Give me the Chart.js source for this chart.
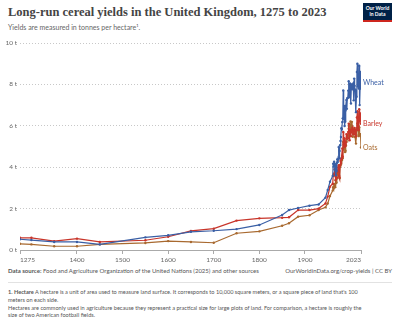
<!DOCTYPE html>
<html>
<head>
<meta charset="utf-8">
<script src="https://cdn.jsdelivr.net/npm/chart.js@4"></script>
<style>
  body { margin: 0; width: 400px; height: 326px; background: #fff; font-family: Lato, sans-serif; position: relative; overflow: hidden; }
  #title { position: absolute; left: 8px; top: 5px; font-family: "Liberation Serif", serif; font-weight: bold; font-size: 12.5px; color: #444; white-space: nowrap; }
  #subtitle { position: absolute; left: 8px; top: 23px; font-size: 7px; color: #666; white-space: nowrap; }
  #logo { position: absolute; left: 363px; top: 3px; width: 29px; height: 19px; background: #002147; border-bottom: 2px solid #ce261e; color: #fff; font-size: 5px; line-height: 5.5px; text-align: center; font-weight: bold; padding-top: 3px; box-sizing: border-box; }
  #chartBox { position: absolute; left: 0; top: 36px; width: 400px; height: 230px; }
  #source { position: absolute; left: 8px; top: 267px; font-size: 6px; color: #555; white-space: nowrap; }
  #url { position: absolute; right: 8px; top: 267px; font-size: 6px; color: #555; white-space: nowrap; }
  #sep { position: absolute; left: 8px; width: 384px; top: 282px; height: 1px; background: #e2e2e2; }
  #note { position: absolute; left: 8px; top: 288px; font-size: 5.6px; line-height: 7.8px; color: #555; white-space: nowrap; }
</style>
</head>
<body>
<div id="title">Long-run cereal yields in the United Kingdom, 1275 to 2023</div>
<div id="subtitle">Yields are measured in tonnes per hectare¹.</div>
<div id="logo">Our World<br>in Data</div>
<div id="chartBox"><canvas id="yieldChart"></canvas></div>
<div id="source"><b>Data source:</b> Food and Agriculture Organization of the United Nations (2025) and other sources</div>
<div id="url">OurWorldinData.org/crop-yields | CC BY</div>
<div id="sep"></div>
<div id="note"><b>1. Hectare</b> A hectare is a unit of area used to measure land surface. It corresponds to 10,000 square meters, or a square piece of land that's 100<br>meters on each side.<br>Hectares are commonly used in agriculture because they represent a practical size for large plots of land. For comparison, a hectare is roughly the<br>size of two American football fields.</div>

<script>
// years: sparse historical estimates, then annual from 1961
const years = [1275, 1300, 1350, 1400, 1450, 1550, 1600, 1650, 1700, 1750, 1800, 1850, 1865, 1885, 1910, 1930, 1945, 1950, 1955,
  1961, 1962, 1963, 1964, 1965, 1966, 1967, 1968, 1969, 1970,
  1971, 1972, 1973, 1974, 1975, 1976, 1977, 1978, 1979, 1980,
  1981, 1982, 1983, 1984, 1985, 1986, 1987, 1988, 1989, 1990,
  1991, 1992, 1993, 1994, 1995, 1996, 1997, 1998, 1999, 2000,
  2001, 2002, 2003, 2004, 2005, 2006, 2007, 2008, 2009, 2010,
  2011, 2012, 2013, 2014, 2015, 2016, 2017, 2018, 2019, 2020,
  2021, 2022, 2023];

const wheat = [0.52, 0.48, 0.39, 0.39, 0.27, 0.61, 0.71, 0.88, 0.93, 1.01, 1.21, 1.69, 1.93, 2.03, 2.14, 2.20, 2.53, 2.90, 3.30,
  3.58, 4.17, 4.03, 4.26, 4.05, 3.86, 4.14, 3.61, 3.81, 4.20,
  4.38, 4.25, 4.37, 4.97, 4.43, 4.78, 5.06, 5.27, 5.46, 5.88,
  5.84, 6.18, 6.36, 7.71, 6.33, 6.96, 5.99, 6.20, 6.74, 6.96,
  7.25, 6.82, 7.33, 7.35, 7.70, 8.15, 7.38, 7.56, 8.05, 8.01,
  7.08, 7.99, 7.78, 7.76, 7.96, 8.04, 7.23, 8.28, 7.93, 7.70,
  7.74, 6.66, 7.40, 8.60, 9.00, 7.90, 8.30, 7.80, 8.90, 7.00,
  7.80, 8.60, 8.10];

const barley = [0.59, 0.59, 0.43, 0.55, 0.39, 0.47, 0.64, 0.92, 1.03, 1.42, 1.53, 1.56, 1.58, 1.93, 1.93, 2.00, 2.25, 2.58, 3.06,
  3.20, 3.60, 3.60, 3.70, 3.90, 3.60, 3.80, 3.40, 3.50, 3.50,
  3.80, 3.80, 4.00, 4.10, 3.60, 3.50, 4.10, 4.30, 4.20, 4.40,
  4.40, 4.90, 4.50, 5.70, 5.10, 5.40, 5.00, 5.00, 5.10, 5.20,
  5.60, 5.40, 5.40, 5.40, 5.70, 6.10, 5.80, 5.30, 5.80, 5.80,
  5.50, 5.70, 5.80, 5.90, 5.70, 5.60, 5.60, 5.80, 5.90, 5.60,
  5.80, 5.50, 5.80, 6.40, 6.70, 5.90, 6.10, 5.80, 6.80, 6.20,
  6.40, 6.60, 6.10];

const oats = [0.30, 0.27, 0.18, 0.18, 0.27, 0.34, 0.43, 0.39, 0.35, 0.81, 0.90, 1.17, 1.29, 1.61, 1.68, 1.93, 2.06, 2.25, 2.61,
  2.87, 3.03, 2.97, 3.18, 3.19, 3.03, 3.37, 3.23, 3.26, 3.46,
  3.65, 3.70, 3.82, 3.96, 3.55, 3.47, 4.02, 4.11, 4.15, 4.43,
  4.34, 4.55, 4.43, 5.22, 4.85, 5.01, 5.08, 4.73, 4.80, 5.05,
  5.23, 5.37, 5.54, 5.44, 5.48, 5.86, 5.98, 6.07, 6.03, 6.21,
  5.78, 5.86, 6.19, 5.97, 5.47, 5.77, 5.74, 5.83, 5.82, 5.46,
  5.68, 5.14, 5.55, 5.88, 6.11, 5.78, 6.00, 5.50, 5.93, 5.59,
  5.56, 5.60, 4.95];

const seriesNames = ['Wheat', 'Barley', 'Oats'];
const seriesColors = ['#3a5fa5', '#c8352a', '#a8692f'];
const xTicks = [1275, 1400, 1500, 1600, 1700, 1800, 1900, 2023];
const yTicks = [0, 2, 4, 6, 8, 10];

function toPoints(values) {
    return years.map((y, i) => ({ x: y, y: values[i] }));
}

// end-of-line labels, OWID style
const endLabels = {
    id: 'endLabels',
    afterDatasetsDraw(chart) {
        const ctx = chart.ctx;
        ctx.save();
        ctx.font = '7px Lato';
        ctx.textBaseline = 'middle';
        chart.data.datasets.forEach((ds, i) => {
            const meta = chart.getDatasetMeta(i);
            const last = meta.data[meta.data.length - 1];
            ctx.fillStyle = ds.borderColor;
            ctx.fillText(ds.label, chart.chartArea.right + 2, last.y);
        });
        ctx.restore();
    }
};

const ctx = document.getElementById('yieldChart').getContext('2d');
const chart = new Chart(ctx, {
    type: 'line',
    data: {
        datasets: [wheat, barley, oats].map((vals, i) => ({
            label: seriesNames[i],
            data: toPoints(vals),
            borderColor: seriesColors[i],
            backgroundColor: seriesColors[i],
            borderWidth: 1.2,
            pointRadius: 1.2,
            pointBorderWidth: 0,
            tension: 0
        }))
    },
    options: {
        responsive: true,
        maintainAspectRatio: false,
        animation: false,
        layout: { padding: { top: 7, right: 39, left: 0, bottom: 0 } },
        plugins: { legend: { display: false }, tooltip: { enabled: false } },
        scales: {
            x: {
                type: 'linear',
                min: 1275,
                max: 2023,
                afterBuildTicks: scale => { scale.ticks = xTicks.map(v => ({ value: v })); },
                afterFit: scale => { scale.height = 16; },
                ticks: {
                    align: 'inner',
                    autoSkip: false,
                    maxRotation: 0,
                    padding: 2,
                    color: '#666',
                    font: { family: 'Lato', size: 6.5 },
                    callback: v => String(v)
                },
                grid: { drawOnChartArea: false, drawTicks: true, tickLength: 4, color: '#aaa' },
                border: { display: true, color: '#aaa', width: 1 }
            },
            y: {
                min: 0,
                max: 10,
                afterBuildTicks: scale => { scale.ticks = yTicks.map(v => ({ value: v })); },
                afterFit: scale => { scale.width = 20; },
                ticks: {
                    padding: 3,
                    color: '#666',
                    font: { family: 'Lato', size: 6.5 },
                    callback: v => v + ' t'
                },
                grid: { color: '#c8c8c8', drawTicks: false },
                border: { display: false, dash: [1, 2] }
            }
        }
    },
    plugins: [endLabels]
});
</script>
</body>
</html>
